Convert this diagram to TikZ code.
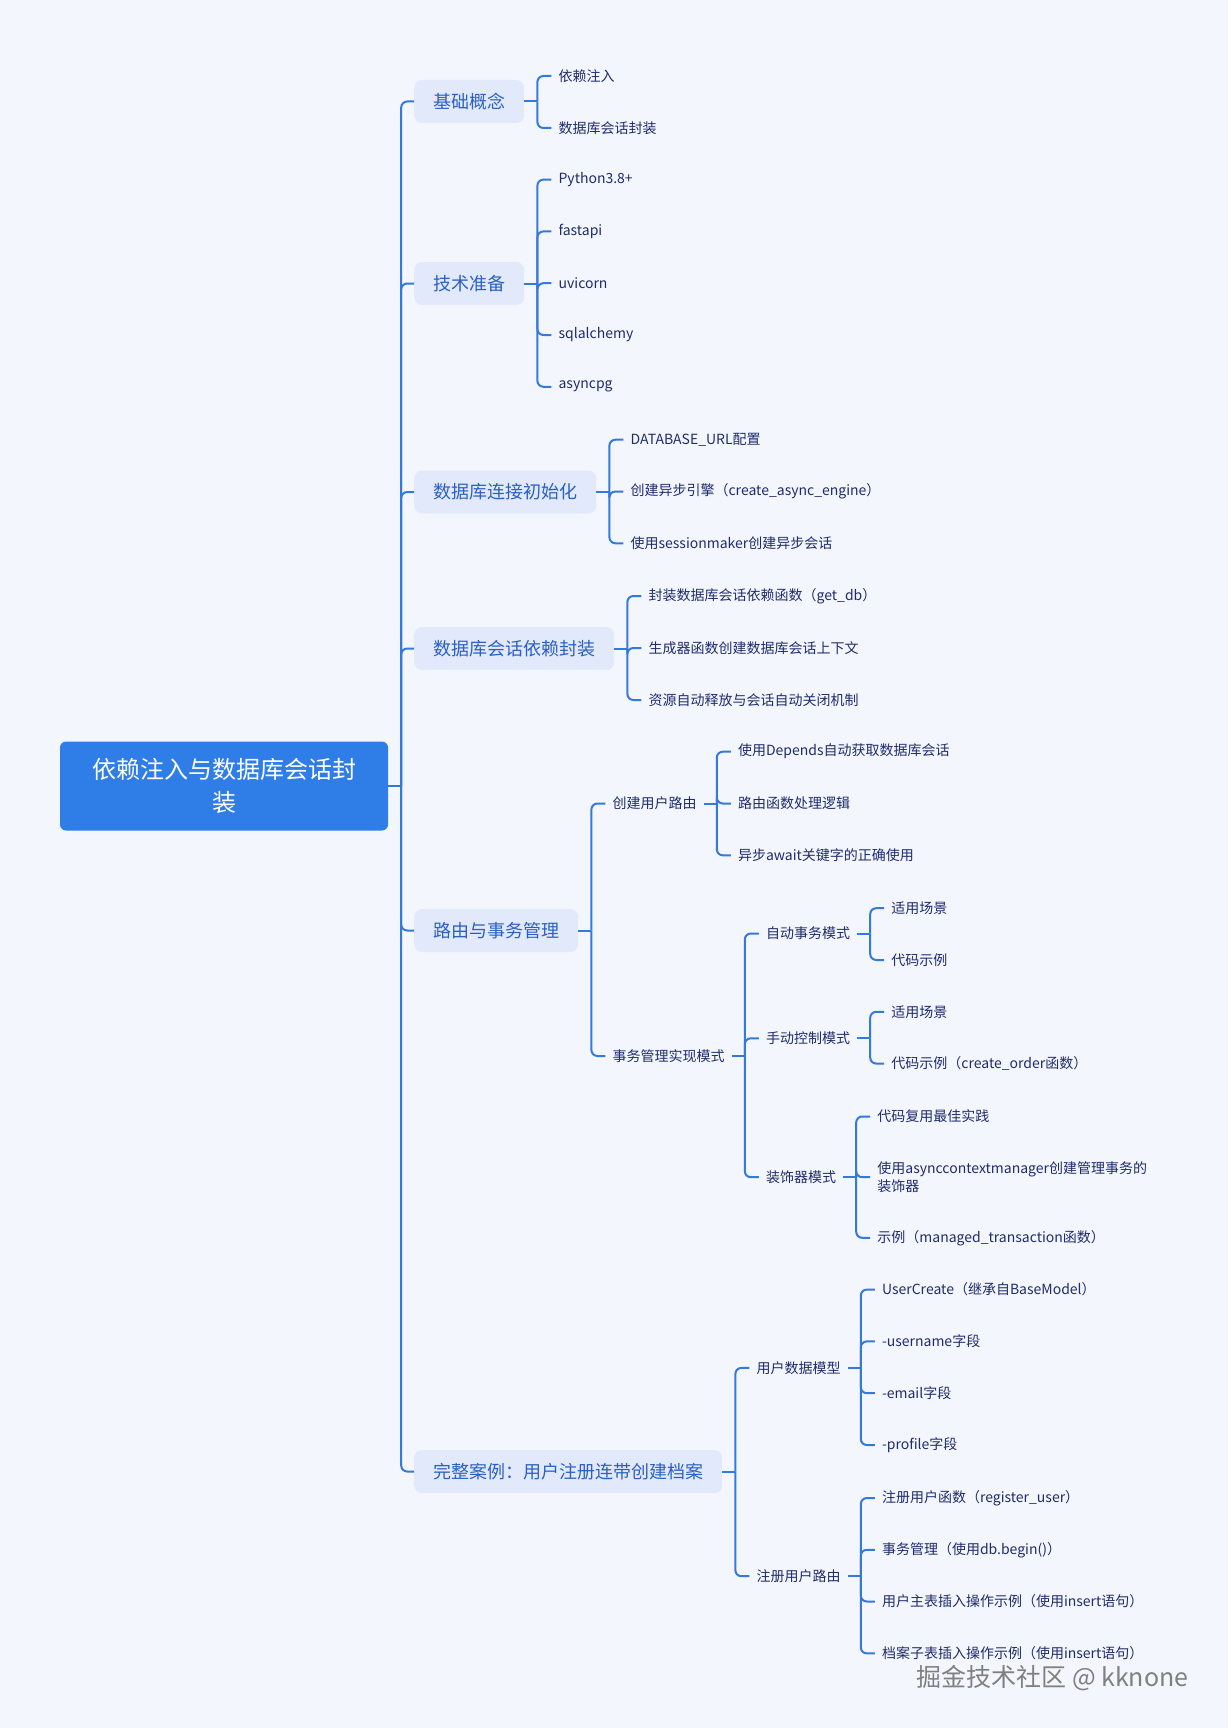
\documentclass[tikz,border=0pt]{standalone}
\usepackage{fontspec}
\setmainfont{Noto Sans CJK SC}
\usepackage{tikz}
\usetikzlibrary{positioning,calc}
\definecolor{pagebg}{HTML}{F4F6FD}
\definecolor{rootblue}{HTML}{2F7DE6}
\definecolor{linkblue}{HTML}{3479DC}
\definecolor{topicfill}{HTML}{E2E9FB}
\definecolor{topicink}{HTML}{2A60C4}
\definecolor{leafink}{HTML}{1E2C6C}
\tikzset{
  rootbox/.style={
    rectangle, rounded corners=6pt, fill=rootblue, text=white,
    minimum width=328pt, minimum height=89pt,
    font=\fontsize{24}{33}\selectfont, align=center
  },
  topicbox/.style={
    rectangle, rounded corners=8pt, fill=topicfill, text=topicink,
    minimum height=43pt, inner xsep=19pt,
    font=\fontsize{18}{22}\selectfont, anchor=west
  },
  leaf/.style={
    text=leafink, inner xsep=7pt, inner ysep=2pt, anchor=west,
    font=\fontsize{14}{18}\selectfont, align=left, xshift=14pt
  },
  branch/.style={
    draw=linkblue, line width=2pt, rounded corners=6pt
  },
  stamp/.style={
    text=black!50, font=\fontsize{25}{28}\selectfont
  },
}

\begin{document}
\begin{tikzpicture}[x=1pt,y=-1pt]
  \fill[pagebg] (0,0) rectangle (1228,1728);
  \useasboundingbox (0,0) rectangle (1228,1728);

  % root and trunk
  \node[rootbox] (root) at (224,786) {依赖注入与数据库会话封\\装};
  \coordinate (trunk) at ([xshift=13pt]root.east);
  \draw[branch] (root.east) -- (trunk);

  % first level
  \node[topicbox] (t1) at (414,101.5) {基础概念};
  \node[topicbox] (t2) at (414,283.5) {技术准备};
  \node[topicbox] (t3) at (414,492) {数据库连接初始化};
  \node[topicbox] (t4) at (414,648.5) {数据库会话依赖封装};
  \node[topicbox] (t5) at (414,930.5) {路由与事务管理};
  \node[topicbox] (t6) at (414,1471.5) {完整案例：用户注册连带创建档案};
  \foreach \t in {t1,t2,t3,t4,t5,t6}
    \draw[branch] (trunk) |- (\t.west);

  % 基础概念
  \coordinate (b1) at ([xshift=13pt]t1.east);
  \node[leaf] (a1) at (b1 |- 0,76) {依赖注入};
  \node[leaf] (a2) at (b1 |- 0,128) {数据库会话封装};
  \draw[branch] (t1.east) -- (b1);
  \foreach \c in {a1,a2} \draw[branch] (b1) |- (\c.west);

  % 技术准备
  \coordinate (b2) at ([xshift=13pt]t2.east);
  \node[leaf] (p1) at (b2 |- 0,179.6) {Python3.8+};
  \node[leaf] (p2) at (b2 |- 0,231.4) {fastapi};
  \node[leaf] (p3) at (b2 |- 0,283.2) {uvicorn};
  \node[leaf] (p4) at (b2 |- 0,335) {sqlalchemy};
  \node[leaf] (p5) at (b2 |- 0,386.8) {asyncpg};
  \draw[branch] (t2.east) -- (b2);
  \foreach \c in {p1,p2,p3,p4,p5} \draw[branch] (b2) |- (\c.west);

  % 数据库连接初始化
  \coordinate (b3) at ([xshift=13pt]t3.east);
  \node[leaf] (c1) at (b3 |- 0,439.7) {DATABASE\_URL配置};
  \node[leaf] (c2) at (b3 |- 0,491.5) {创建异步引擎（create\_async\_engine）};
  \node[leaf] (c3) at (b3 |- 0,543.3) {使用sessionmaker创建异步会话};
  \draw[branch] (t3.east) -- (b3);
  \foreach \c in {c1,c2,c3} \draw[branch] (b3) |- (\c.west);

  % 数据库会话依赖封装
  \coordinate (b4) at ([xshift=13pt]t4.east);
  \node[leaf] (d1) at (b4 |- 0,596) {封装数据库会话依赖函数（get\_db）};
  \node[leaf] (d2) at (b4 |- 0,648) {生成器函数创建数据库会话上下文};
  \node[leaf] (d3) at (b4 |- 0,700) {资源自动释放与会话自动关闭机制};
  \draw[branch] (t4.east) -- (b4);
  \foreach \c in {d1,d2,d3} \draw[branch] (b4) |- (\c.west);

  % 路由与事务管理
  \coordinate (b5) at ([xshift=13pt]t5.east);
  \node[leaf] (r1) at (b5 |- 0,803.5) {创建用户路由};
  \node[leaf] (r2) at (b5 |- 0,1056) {事务管理实现模式};
  \draw[branch] (t5.east) -- (b5);
  \foreach \c in {r1,r2} \draw[branch] (b5) |- (\c.west);

  \coordinate (br1) at ([xshift=13pt]r1.east);
  \node[leaf] (e1) at (br1 |- 0,751.7) {使用Depends自动获取数据库会话};
  \node[leaf] (e2) at (br1 |- 0,803.5) {路由函数处理逻辑};
  \node[leaf] (e3) at (br1 |- 0,855.3) {异步await关键字的正确使用};
  \draw[branch] (r1.east) -- (br1);
  \foreach \c in {e1,e2,e3} \draw[branch] (br1) |- (\c.west);

  \coordinate (br2) at ([xshift=13pt]r2.east);
  \node[leaf] (m1) at (br2 |- 0,933.5) {自动事务模式};
  \node[leaf] (m2) at (br2 |- 0,1038.3) {手动控制模式};
  \node[leaf] (m3) at (br2 |- 0,1177.2) {装饰器模式};
  \draw[branch] (r2.east) -- (br2);
  \foreach \c in {m1,m2,m3} \draw[branch] (br2) |- (\c.west);

  \coordinate (bm1) at ([xshift=13pt]m1.east);
  \node[leaf] (f1) at (bm1 |- 0,908.2) {适用场景};
  \node[leaf] (f2) at (bm1 |- 0,960) {代码示例};
  \draw[branch] (m1.east) -- (bm1);
  \foreach \c in {f1,f2} \draw[branch] (bm1) |- (\c.west);

  \coordinate (bm2) at ([xshift=13pt]m2.east);
  \node[leaf] (g1) at (bm2 |- 0,1011.8) {适用场景};
  \node[leaf] (g2) at (bm2 |- 0,1063.6) {代码示例（create\_order函数）};
  \draw[branch] (m2.east) -- (bm2);
  \foreach \c in {g1,g2} \draw[branch] (bm2) |- (\c.west);

  \coordinate (bm3) at ([xshift=13pt]m3.east);
  \node[leaf] (h1) at (bm3 |- 0,1116.5) {代码复用最佳实践};
  \node[leaf] (h2) at (bm3 |- 0,1177.2) {使用asynccontextmanager创建管理事务的\\装饰器};
  \node[leaf] (h3) at (bm3 |- 0,1237.8) {示例（managed\_transaction函数）};
  \draw[branch] (m3.east) -- (bm3);
  \foreach \c in {h1,h2,h3} \draw[branch] (bm3) |- (\c.west);

  % 完整案例
  \coordinate (b6) at ([xshift=13pt]t6.east);
  \node[leaf] (k1) at (b6 |- 0,1367.9) {用户数据模型};
  \node[leaf] (k2) at (b6 |- 0,1576.2) {注册用户路由};
  \draw[branch] (t6.east) -- (b6);
  \foreach \c in {k1,k2} \draw[branch] (b6) |- (\c.west);

  \coordinate (bk1) at ([xshift=13pt]k1.east);
  \node[leaf] (u1) at (bk1 |- 0,1289.6) {UserCreate（继承自BaseModel）};
  \node[leaf] (u2) at (bk1 |- 0,1341.4) {-username字段};
  \node[leaf] (u3) at (bk1 |- 0,1393.2) {-email字段};
  \node[leaf] (u4) at (bk1 |- 0,1445) {-profile字段};
  \draw[branch] (k1.east) -- (bk1);
  \foreach \c in {u1,u2,u3,u4} \draw[branch] (bk1) |- (\c.west);

  \coordinate (bk2) at ([xshift=13pt]k2.east);
  \node[leaf] (v1) at (bk2 |- 0,1498) {注册用户函数（register\_user）};
  \node[leaf] (v2) at (bk2 |- 0,1549.8) {事务管理（使用db.begin()）};
  \node[leaf] (v3) at (bk2 |- 0,1601.5) {用户主表插入操作示例（使用insert语句）};
  \node[leaf] (v4) at (bk2 |- 0,1653.4) {档案子表插入操作示例（使用insert语句）};
  \draw[branch] (k2.east) -- (bk2);
  \foreach \c in {v1,v2,v3,v4} \draw[branch] (bk2) |- (\c.west);

  % watermark
  \node[stamp, anchor=west] (mark) at (913,1678) {掘金技术社区 @ kknone};
\end{tikzpicture}
\end{document}
